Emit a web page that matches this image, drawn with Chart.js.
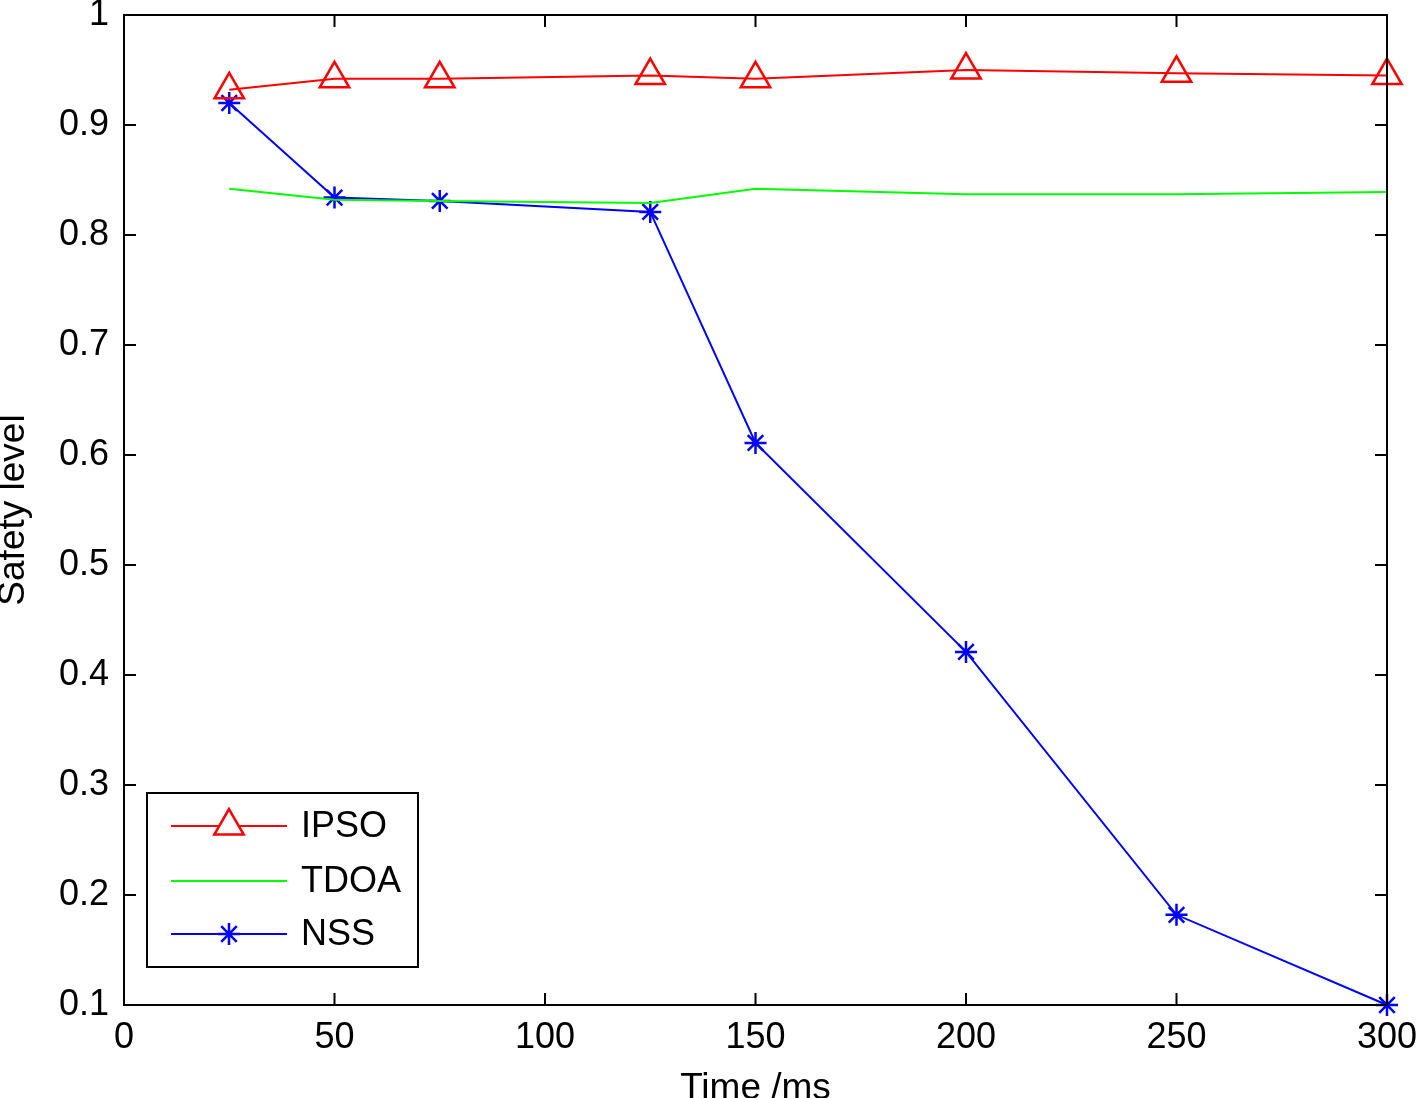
<!DOCTYPE html>
<html>
<head>
<meta charset="utf-8">
<script src="https://cdn.jsdelivr.net/npm/chart.js@4.4.0/dist/chart.umd.min.js"></script>
<style>
  html, body { margin: 0; padding: 0; background: #fff; }
  #wrap { width: 1418px; height: 1098px; }
</style>
</head>
<body>
<div id="wrap"><canvas id="chart" width="1418" height="1098"></canvas></div>
<script>
// values
const times = [25, 50, 75, 125, 150, 200, 250, 300];
const ipso = [0.932, 0.942, 0.942, 0.945, 0.942, 0.950, 0.947, 0.945];
const tdoa = [0.842, 0.832, 0.831, 0.829, 0.842, 0.837, 0.837, 0.839];
const nss = [0.920, 0.834, 0.831, 0.821, 0.611, 0.421, 0.182, 0.100];

const xTicks = [0, 50, 100, 150, 200, 250, 300];
const yTicks = [0.1, 0.2, 0.3, 0.4, 0.5, 0.6, 0.7, 0.8, 0.9, 1];

const FONT = "'Liberation Sans', Arial, Helvetica, sans-serif";

function pts(ys) {
    return times.map((t, i) => ({ x: t, y: ys[i] }));
}

// frame, inward ticks on all four sides, and the boxed legend
const matlabAxes = {
    id: "matlabAxes",
    afterDraw(chart) {
        const ctx = chart.ctx;
        const a = chart.chartArea;
        const xs = chart.scales.x;
        const ys = chart.scales.y;
        const len = 12;
        ctx.save();
        ctx.strokeStyle = "#000";
        ctx.lineWidth = 2;
        ctx.beginPath();
        xTicks.forEach(v => {
            const px = xs.getPixelForValue(v);
            ctx.moveTo(px, a.bottom); ctx.lineTo(px, a.bottom - len);
            ctx.moveTo(px, a.top); ctx.lineTo(px, a.top + len);
        });
        yTicks.forEach(v => {
            const py = ys.getPixelForValue(v);
            ctx.moveTo(a.left, py); ctx.lineTo(a.left + len, py);
            ctx.moveTo(a.right, py); ctx.lineTo(a.right - len, py);
        });
        ctx.stroke();
        ctx.strokeRect(a.left, a.top, a.right - a.left, a.bottom - a.top);

        // legend
        const bx = 147, by = 793, bw = 271, bh = 174;
        ctx.fillStyle = "#fff";
        ctx.fillRect(bx, by, bw, bh);
        ctx.strokeRect(bx, by, bw, bh);
        const rows = [826, 881, 934];
        ctx.font = "36px " + FONT;
        ctx.textBaseline = "middle";
        chart.data.datasets.forEach((ds, i) => {
            const y = rows[i];
            ctx.strokeStyle = ds.borderColor;
            ctx.lineWidth = 2;
            ctx.beginPath();
            ctx.moveTo(171, y); ctx.lineTo(287, y);
            ctx.stroke();
            if (ds.pointRadius > 0) {
                ctx.lineWidth = ds.pointBorderWidth;
                Chart.helpers.drawPoint(ctx, {
                    pointStyle: ds.pointStyle,
                    radius: ds.pointRadius,
                    rotation: 0,
                    borderWidth: ds.pointBorderWidth
                }, 229, y);
            }
            ctx.fillStyle = "#000";
            ctx.fillText(ds.label, 301, y + 1);
        });
        ctx.restore();
    }
};

new Chart(document.getElementById("chart"), {
    type: "line",
    data: {
        datasets: [
            {
                label: "IPSO",
                data: pts(ipso),
                borderColor: "#ff0000",
                backgroundColor: "rgba(0,0,0,0)",
                borderWidth: 2,
                pointStyle: "triangle",
                pointRadius: 17,
                pointBorderWidth: 2.5,
                pointBorderColor: "#ff0000",
                pointBackgroundColor: "rgba(0,0,0,0)",
                clip: false
            },
            {
                label: "TDOA",
                data: pts(tdoa),
                borderColor: "#00ff00",
                backgroundColor: "rgba(0,0,0,0)",
                borderWidth: 2,
                pointRadius: 0,
                clip: false
            },
            {
                label: "NSS",
                data: pts(nss),
                borderColor: "#0000ff",
                backgroundColor: "rgba(0,0,0,0)",
                borderWidth: 2,
                pointStyle: "star",
                pointRadius: 11,
                pointBorderWidth: 2.5,
                pointBorderColor: "#0000ff",
                pointBackgroundColor: "rgba(0,0,0,0)",
                clip: false
            }
        ]
    },
    options: {
        responsive: false,
        animation: false,
        devicePixelRatio: 1,
        layout: {
            autoPadding: false,
            padding: { left: 0, right: 31, top: 15, bottom: 0 }
        },
        elements: { line: { tension: 0 } },
        plugins: {
            legend: { display: false },
            tooltip: { enabled: false }
        },
        scales: {
            x: {
                type: "linear",
                min: 0,
                max: 300,
                afterBuildTicks(scale) {
                    scale.ticks = xTicks.map(v => ({ value: v }));
                },
                afterFit(scale) {
                    scale.height = 93;
                    scale.paddingLeft = 0;
                    scale.paddingRight = 0;
                },
                grid: { display: false },
                border: { display: false },
                ticks: {
                    color: "#000",
                    padding: 3,
                    maxRotation: 0,
                    autoSkip: false,
                    font: { family: FONT, size: 36 }
                },
                title: {
                    display: true,
                    text: "Time /ms",
                    color: "#000",
                    padding: 0,
                    font: { family: FONT, size: 37, lineHeight: 0.5 }
                }
            },
            y: {
                type: "linear",
                min: 0.1,
                max: 1,
                afterBuildTicks(scale) {
                    scale.ticks = yTicks.map(v => ({ value: v }));
                },
                afterFit(scale) {
                    scale.width = 124;
                    scale.paddingTop = 0;
                    scale.paddingBottom = 0;
                },
                grid: { display: false },
                border: { display: false },
                ticks: {
                    color: "#000",
                    padding: 7,
                    autoSkip: false,
                    font: { family: FONT, size: 36 },
                    callback: v => String(Math.round(v * 10) / 10)
                },
                title: {
                    display: true,
                    text: "Safety level",
                    color: "#000",
                    padding: 0,
                    font: { family: FONT, size: 37, lineHeight: 0.76 }
                }
            }
        }
    },
    plugins: [matlabAxes]
});
</script>
</body>
</html>
